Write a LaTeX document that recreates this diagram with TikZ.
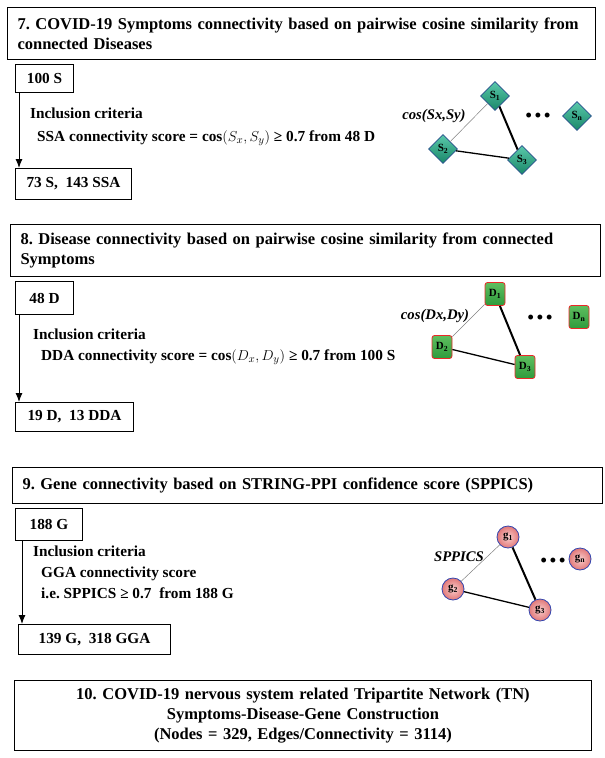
\documentclass[tikz,border=0pt]{standalone}
\usepackage{fontspec}
\setmainfont{Liberation Serif}
\usetikzlibrary{shapes.geometric,arrows.meta}
\frenchspacing

\definecolor{sborder}{RGB}{40,80,140}
\definecolor{stop}{RGB}{90,200,170}
\definecolor{sbot}{RGB}{25,135,105}
\definecolor{dborder}{RGB}{235,40,40}
\definecolor{dtop}{RGB}{95,190,95}
\definecolor{dbot}{RGB}{45,155,60}
\definecolor{gborder}{RGB}{50,70,175}
\definecolor{gin}{RGB}{250,205,205}
\definecolor{gout}{RGB}{225,120,120}

\begin{document}
\begin{tikzpicture}[x=1pt,y=-1pt,
	headbox/.style={draw,line width=1pt,anchor=north west,inner xsep=10pt,font=\fontsize{16.5}{20}\selectfont\bfseries},
	countbox/.style={draw,line width=1pt,anchor=north west,font=\fontsize{15.3}{17}\selectfont\bfseries},
	crit/.style={anchor=base west,inner sep=0pt,font=\fontsize{15.3}{17}\selectfont\bfseries},
	netlabel/.style={inner sep=0pt,font=\fontsize{14.7}{16}\selectfont\bfseries\itshape},
	dots/.style={inner sep=0pt,font=\fontsize{18}{18}\selectfont\bfseries},
	snode/.style={diamond,draw=sborder,thick,top color=stop,bottom color=sbot,minimum size=29pt,inner sep=0pt,font=\fontsize{11}{11}\selectfont\bfseries},
	dnode/.style={rectangle,rounded corners=2.5pt,draw=dborder,thick,top color=dtop,bottom color=dbot,minimum width=20pt,minimum height=23pt,inner sep=0pt,font=\fontsize{11}{11}\selectfont\bfseries},
	gnode/.style={circle,draw=gborder,thick,inner color=gin,outer color=gout,minimum size=22pt,inner sep=0pt,font=\fontsize{11}{11}\selectfont\bfseries},
	weak/.style={draw=gray,line width=0.5pt},
	strong/.style={draw=black,line width=2pt},
	medium/.style={draw=black,line width=1.3pt},
	flow/.style={line width=1pt,-{Latex[length=9pt,width=7pt]}}]

	\useasboundingbox (0,0) rectangle (605,758);

	% step 7
	\node[headbox,minimum width=588pt,minimum height=52pt,text width=568pt,align=left] (h7) at (7,7) {7. COVID-19 Symptoms connectivity based on pairwise cosine similarity from\\connected Diseases};
	\node[countbox,minimum width=58pt,minimum height=28pt] (s100) at (15,64) {100 S};
	\node[countbox,minimum width=116pt,minimum height=31pt] (s73) at (15,168) {73 S,~ 143 SSA};
	\draw[flow] ([xshift=4pt]s100.south west) -- ([xshift=4pt]s73.north west);
	\node[crit] (c7a) at (30,118) {Inclusion criteria};
	\node[crit] (c7b) at (37,141) {SSA connectivity score = \textbf{cos}$\bigl(S_x,S_y\bigr)$ ≥ 0.7 from 48 D};

	\node[snode] (s1) at (495,96) {S\textsubscript{1}};
	\node[snode] (s2) at (443,149) {S\textsubscript{2}};
	\node[snode] (s3) at (522,160) {S\textsubscript{3}};
	\node[snode] (sn) at (577,116) {S\textsubscript{n}};
	\draw[weak] (s1) -- (s2);
	\draw[strong] (s1) -- (s3);
	\draw[medium] (s2) -- (s3);
	\node[netlabel] (l7) at (434,116) {cos(Sx,Sy)};
	\node[dots] (p7) at (538,117) {•\,•\,•};

	% step 8
	\node[headbox,minimum width=590pt,minimum height=52pt,text width=570pt,align=left] (h8) at (10,224) {8. Disease connectivity based on pairwise cosine similarity from connected\\Symptoms};
	\node[countbox,minimum width=58pt,minimum height=33pt] (d48) at (15,281) {48 D};
	\node[countbox,minimum width=118pt,minimum height=29pt] (d19) at (15,402) {19 D,~ 13 DDA};
	\draw[flow] ([xshift=4pt]d48.south west) -- ([xshift=4pt]d19.north west);
	\node[crit] (c8a) at (33,339) {Inclusion criteria};
	\node[crit] (c8b) at (41,360) {DDA connectivity score = \textbf{cos}$\bigl(D_x,D_y\bigr)$ ≥ 0.7 from 100 S};

	\node[dnode] (d1) at (495,294) {D\textsubscript{1}};
	\node[dnode] (d2) at (442,347) {D\textsubscript{2}};
	\node[dnode] (d3) at (525,367) {D\textsubscript{3}};
	\node[dnode] (dn) at (579,317) {D\textsubscript{n}};
	\draw[weak] (d1) -- (d2);
	\draw[strong] (d1) -- (d3);
	\draw[medium] (d2) -- (d3);
	\node[netlabel] (l8) at (435,316) {cos(Dx,Dy)};
	\node[dots] (p8) at (540,319) {•\,•\,•};

	% step 9
	\node[headbox,minimum width=590pt,minimum height=36pt,text width=570pt,align=left] (h9) at (12,467) {9. Gene connectivity based on STRING-PPI confidence score (SPPICS)};
	\node[countbox,minimum width=67pt,minimum height=32pt] (g188) at (15,508) {188 G};
	\node[countbox,minimum width=152pt,minimum height=30pt] (g139) at (18,624) {139 G,~ 318 GGA};
	\draw[flow] ([xshift=7pt]g188.south west) -- ([xshift=7pt]g188.south west |- g139.north);
	\node[crit] (c9a) at (33,556) {Inclusion criteria};
	\node[crit] (c9b) at (41,577) {GGA connectivity score};
	\node[crit] (c9c) at (41,598) {i.e. SPPICS ≥ 0.7~ from 188 G};

	\node[gnode] (g1) at (508,537) {g\textsubscript{1}};
	\node[gnode] (g2) at (453,589) {g\textsubscript{2}};
	\node[gnode] (g3) at (540,610) {g\textsubscript{3}};
	\node[gnode] (gn) at (580,559) {g\textsubscript{n}};
	\draw[weak] (g1) -- (g2);
	\draw[strong] (g1) -- (g3);
	\draw[medium] (g2) -- (g3);
	\node[netlabel] (l9) at (459,557) {SPPICS};
	\node[dots] (p9) at (553,562) {•\,•\,•};

	% step 10
	\node[headbox,minimum width=577pt,minimum height=70pt,text width=557pt,align=center] (h10) at (14,680) {10. COVID-19 nervous system related Tripartite Network (TN)\\Symptoms-Disease-Gene Construction\\(Nodes = 329, Edges/Connectivity = 3114)};
\end{tikzpicture}
\end{document}
